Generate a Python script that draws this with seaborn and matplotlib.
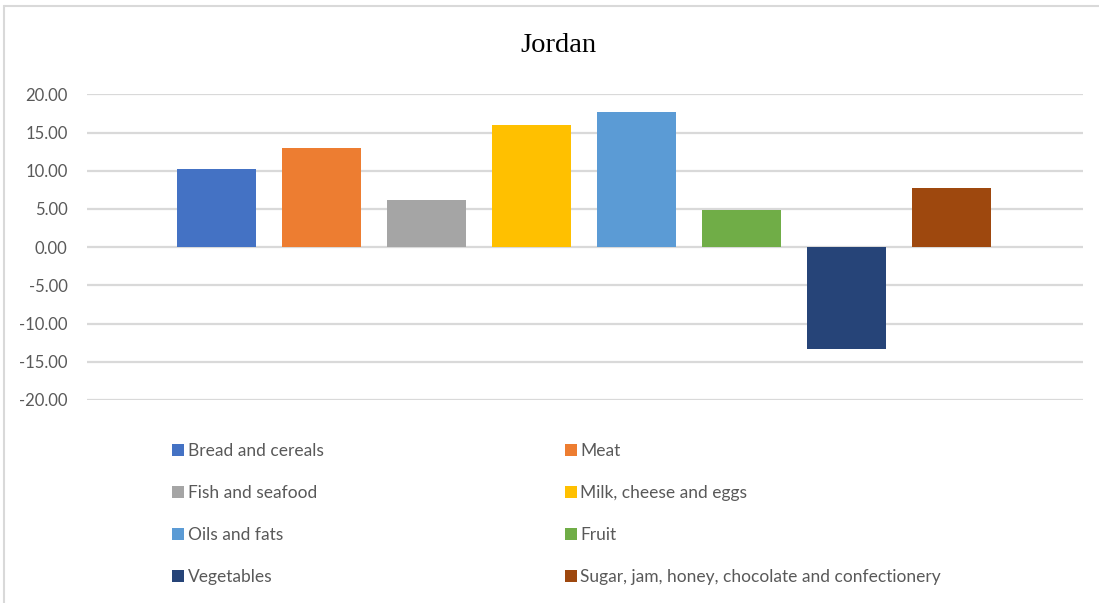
import matplotlib
matplotlib.use("Agg")
import matplotlib.pyplot as plt
from matplotlib.patches import Patch
from matplotlib.lines import Line2D
import seaborn as sns
import pandas as pd

categories = [
    "Bread and cereals",
    "Meat",
    "Fish and seafood",
    "Milk, cheese and eggs",
    "Oils and fats",
    "Fruit",
    "Vegetables",
    "Sugar, jam, honey, chocolate and confectionery",
]
values = [10.25, 13.0, 6.2, 16.0, 17.7, 4.9, -13.3, 7.7]
colors = ["#4472C4", "#ED7D31", "#A5A5A5", "#FFC000",
          "#5B9BD5", "#70AD47", "#264478", "#9E480E"]
y_ticks = [20, 15, 10, 5, 0, -5, -10, -15, -20]
title = "Jordan"

sns.set_theme(style="white")
plt.rcParams["font.family"] = ["Lato", "DejaVu Sans"]

df = pd.DataFrame({"category": categories, "value": values})

fig = plt.figure(figsize=(10.99, 6.03), dpi=100)
ax = fig.add_axes([87 / 1099, 1 - 400 / 603, (1083 - 87) / 1099, (400 - 94.3) / 603])

sns.barplot(data=df, x="category", y="value", hue="category",
            palette=colors, order=categories, hue_order=categories,
            dodge=False, width=0.75, saturation=1, legend=False, ax=ax,
            edgecolor="none", linewidth=0, zorder=3)

ax.set_ylim(-20, 20)
ax.set_xlim(-1.23, 8.25)
ax.set_yticks(y_ticks)
ax.set_yticklabels([f"{v:.2f}" for v in y_ticks], color="#595959", fontsize=12)
ax.set_xticks([])
ax.set_xlabel("")
ax.set_ylabel("")
ax.tick_params(axis="y", length=0, pad=14)
ax.grid(axis="y", color="#D9D9D9", linewidth=1.6, zorder=0)
ax.set_axisbelow(True)
for s in ax.spines.values():
    s.set_visible(False)

fig.text(558 / 1099, 1 - 45 / 603, title, ha="center", va="center",
         fontsize=20.5, family=["Liberation Serif"], color="#000000")

# legend: two columns, filled row by row
handles = [Patch(facecolor=c, edgecolor="none") for c in colors]
order = [0, 2, 4, 6, 1, 3, 5, 7]
leg = fig.legend([handles[i] for i in order], [categories[i] for i in order],
                 ncol=2, loc="upper left", bbox_to_anchor=(172 / 1099, 1 - 443 / 603),
                 frameon=False, fontsize=12.5, handlelength=0.7, handleheight=0.7,
                 handletextpad=0.2, columnspacing=13.9, labelspacing=1.5,
                 borderaxespad=0, borderpad=0)
for t in leg.get_texts():
    t.set_color("#595959")

# chart frame (top and left edges)
fig.add_artist(Line2D([4 / 1099, 4 / 1099], [0, 1 - 6 / 603], color="#D9D9D9",
                      linewidth=1.5, transform=fig.transFigure))
fig.add_artist(Line2D([4 / 1099, 1], [1 - 6 / 603, 1 - 6 / 603], color="#D9D9D9",
                      linewidth=1.5, transform=fig.transFigure))

fig.savefig("out.png", dpi=100, facecolor="white")
